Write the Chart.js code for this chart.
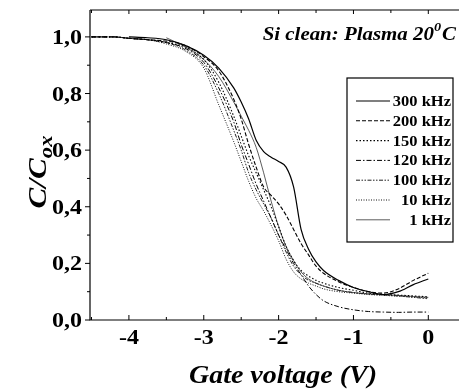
<!DOCTYPE html>
<html>
<head>
<meta charset="utf-8">
<script src="https://cdn.jsdelivr.net/npm/chart.js@4"></script>
<style>
  html, body { margin: 0; padding: 0; background: #fff; }
  #wrap { width: 460px; height: 392px; }
</style>
</head>
<body>
<div id="wrap"><canvas id="cv" width="460" height="392"></canvas></div>
<script>
// --- data ---
const voltage = [-4.5, -4.2, -4.0, -3.75, -3.5, -3.25, -3.0, -2.8, -2.6, -2.5, -2.4, -2.3, -2.2, -2.1,
  -2.0, -1.9, -1.8, -1.7, -1.6, -1.5, -1.4, -1.2, -1.0, -0.8, -0.6, -0.4, -0.2, 0];

const c300 = [null, null, 1.0, 0.997, 0.99, 0.97, 0.935, 0.89, 0.82, 0.77, 0.71, 0.635, 0.595, 0.575,
  0.56, 0.54, 0.47, 0.32, 0.25, 0.205, 0.175, 0.14, 0.115, 0.1, 0.09, 0.1, 0.125, 0.145];
const c200 = [1.0, 1.0, 0.995, 0.99, 0.985, 0.97, 0.93, 0.88, 0.78, 0.71, 0.62, 0.54, 0.47, 0.44,
  0.41, 0.37, 0.32, 0.27, 0.23, 0.19, 0.165, 0.135, 0.115, 0.1, 0.095, 0.11, 0.14, 0.165];
const c150 = [1.0, 1.0, 0.995, 0.99, 0.98, 0.965, 0.92, 0.84, 0.72, 0.65, 0.58, 0.52, 0.46, 0.40,
  0.33, 0.26, 0.21, 0.175, 0.155, 0.14, 0.13, 0.115, 0.105, 0.095, 0.09, 0.088, 0.085, 0.082];
const c120 = [1.0, 1.0, 0.995, 0.99, 0.98, 0.96, 0.91, 0.82, 0.70, 0.62, 0.55, 0.48, 0.42, 0.36,
  0.30, 0.25, 0.20, 0.16, 0.12, 0.09, 0.068, 0.047, 0.036, 0.03, 0.028, 0.027, 0.028, 0.028];
const c100 = [1.0, 1.0, 0.995, 0.99, 0.98, 0.955, 0.90, 0.80, 0.67, 0.60, 0.52, 0.46, 0.41, 0.36,
  0.30, 0.24, 0.19, 0.16, 0.14, 0.13, 0.12, 0.105, 0.097, 0.092, 0.088, 0.085, 0.08, 0.075];
const c10 = [1.0, 1.0, 0.995, 0.99, 0.975, 0.95, 0.89, 0.76, 0.63, 0.56, 0.49, 0.43, 0.385, 0.335,
  0.28, 0.215, 0.17, 0.145, 0.13, 0.12, 0.11, 0.10, 0.095, 0.09, 0.087, 0.084, 0.081, 0.078];
const c1 = [null, null, null, null, 0.997, 0.965, 0.92, 0.86, 0.77, 0.72, 0.67, 0.61, 0.52, 0.42,
  0.33, 0.26, 0.21, 0.17, 0.145, 0.13, 0.12, 0.105, 0.097, 0.092, 0.09, 0.087, 0.083, 0.08];

const seriesLabels = ['300 kHz', '200 kHz', '150 kHz', '120 kHz', '100 kHz', '10 kHz', '1 kHz'];
const xTicks = [-4, -3, -2, -1, 0];
const xMinor = [-4.5, -3.5, -2.5, -1.5, -0.5];
const yTicks = [0, 0.2, 0.4, 0.6, 0.8, 1.0];
const yMinor = [0.1, 0.3, 0.5, 0.7, 0.9];

// line styles per series
const styles = [
  { dash: [], width: 1.2, color: '#000' },
  { dash: [4, 2], width: 1.1, color: '#000' },
  { dash: [1.5, 2], width: 1.1, color: '#000' },
  { dash: [5, 2, 1.5, 2], width: 1.0, color: '#000' },
  { dash: [4, 1.5, 1.5, 1.5, 1.5, 1.5], width: 1.0, color: '#222' },
  { dash: [1, 1.5], width: 1.0, color: '#111' },
  { dash: [], width: 0.8, color: '#333' }
];

const allSeries = [c300, c200, c150, c120, c100, c10, c1];

const SERIF = "'Liberation Serif', 'DejaVu Serif', serif";
const STRETCH = 1.2; // the original lettering is wider than Liberation Serif

// draw text horizontally stretched by sx; x is the anchor for the given align
const drawStretched = (ctx, text, x, y, font, sx, align) => {
  ctx.save();
  ctx.font = font;
  const w = ctx.measureText(text).width * sx;
  let left = x;
  if (align === 'center') left = x - w / 2;
  else if (align === 'right') left = x - w;
  ctx.translate(left, y);
  ctx.scale(sx, 1);
  ctx.textAlign = 'left';
  ctx.fillText(text, 0, 0);
  ctx.restore();
  return w;
};

// --- custom drawing: frame, ticks, labels, titles, legend box, annotation ---
const decorPlugin = {
  id: 'decor',
  afterDraw(chart) {
    const { ctx, chartArea: a, scales: { x, y } } = chart;
    ctx.save();
    ctx.strokeStyle = '#000';
    ctx.lineWidth = 1.2;
    ctx.beginPath();
    ctx.moveTo(a.left, a.top); ctx.lineTo(a.left, a.bottom); ctx.lineTo(a.right, a.bottom);
    ctx.moveTo(a.left, a.top); ctx.lineTo(a.right, a.top);
    ctx.stroke();

    ctx.lineWidth = 1;
    ctx.beginPath();
    // y ticks point outward, x ticks inward
    yTicks.forEach(v => { const p = y.getPixelForValue(v); ctx.moveTo(a.left - 5, p); ctx.lineTo(a.left, p); });
    yMinor.forEach(v => { const p = y.getPixelForValue(v); ctx.moveTo(a.left - 3, p); ctx.lineTo(a.left, p); });
    xTicks.forEach(v => {
      const p = x.getPixelForValue(v);
      ctx.moveTo(p, a.bottom); ctx.lineTo(p, a.bottom - 5);
      ctx.moveTo(p, a.top); ctx.lineTo(p, a.top + 4);
    });
    xMinor.forEach(v => {
      const p = x.getPixelForValue(v);
      ctx.moveTo(p, a.bottom); ctx.lineTo(p, a.bottom - 3);
      ctx.moveTo(p, a.top); ctx.lineTo(p, a.top + 3);
    });
    ctx.stroke();

    ctx.fillStyle = '#000';
    ctx.textBaseline = 'alphabetic';
    const tickFont = 'bold 20px ' + SERIF;
    yTicks.forEach(v => {
      drawStretched(ctx, v.toFixed(1).replace('.', ','), 82, y.getPixelForValue(v) + 7, tickFont, STRETCH, 'right');
    });
    xTicks.forEach(v => {
      drawStretched(ctx, String(v), x.getPixelForValue(v), 344, tickFont, STRETCH, 'center');
    });

    // x title
    drawStretched(ctx, 'Gate voltage (V)', 283, 383, 'italic bold 25px ' + SERIF, 1.12, 'center');

    // y title C/C_ox, rotated
    ctx.save();
    ctx.translate(46, 172);
    ctx.rotate(-Math.PI / 2);
    const bigF = 'italic bold 26px ' + SERIF;
    const subF = 'italic bold 19px ' + SERIF;
    const ys = 1.2;
    ctx.font = bigF;
    const w1 = ctx.measureText('C/C').width * ys;
    ctx.font = subF;
    const w2 = ctx.measureText('ox').width * ys;
    const start = -(w1 + w2) / 2;
    drawStretched(ctx, 'C/C', start, 0, bigF, ys, 'left');
    drawStretched(ctx, 'ox', start + w1, 6, subF, ys, 'left');
    ctx.restore();

    // annotation top right
    const annF = 'italic bold 19px ' + SERIF;
    const supF = 'italic bold 13px ' + SERIF;
    ctx.font = annF;
    const wt1 = ctx.measureText('Si clean: Plasma 20').width * 1.1;
    const wC = ctx.measureText('C').width * 1.1;
    ctx.font = supF;
    const wsup = ctx.measureText('0').width * 1.1;
    const sx = 456 - (wt1 + wsup + wC + 1);
    drawStretched(ctx, 'Si clean: Plasma 20', sx, 40, annF, 1.1, 'left');
    drawStretched(ctx, '0', sx + wt1, 31, supF, 1.1, 'left');
    drawStretched(ctx, 'C', sx + wt1 + wsup + 1, 40, annF, 1.1, 'left');

    // legend box
    ctx.fillStyle = '#fff';
    ctx.fillRect(347, 78, 106, 164);
    ctx.strokeStyle = '#000';
    ctx.lineWidth = 1.2;
    ctx.setLineDash([]);
    ctx.strokeRect(347, 78, 106, 164);
    ctx.fillStyle = '#000';
    seriesLabels.forEach((lab, i) => {
      const ly = 101 + i * 19.8;
      const st = styles[i];
      ctx.strokeStyle = st.color;
      ctx.lineWidth = st.width;
      ctx.setLineDash(st.dash);
      ctx.beginPath();
      ctx.moveTo(356, ly); ctx.lineTo(390, ly);
      ctx.stroke();
      drawStretched(ctx, lab, 451, ly + 5, 'bold 15px ' + SERIF, 1.1, 'right');
    });
    ctx.restore();
  }
};

const datasets = allSeries.map((vals, i) => ({
  label: seriesLabels[i],
  data: voltage.map((v, k) => ({ x: v, y: vals[k] })),
  borderColor: styles[i].color,
  borderWidth: styles[i].width,
  borderDash: styles[i].dash,
  pointRadius: 0,
  fill: false,
  cubicInterpolationMode: 'monotone',
  spanGaps: false
}));

new Chart(document.getElementById('cv'), {
  type: 'line',
  data: { datasets },
  options: {
    responsive: false,
    animation: false,
    layout: { padding: { top: 10, right: 1, left: 0, bottom: 0 } },
    plugins: { legend: { display: false }, tooltip: { enabled: false } },
    scales: {
      x: {
        type: 'linear',
        min: -4.52,
        max: 0.41,
        grid: { display: false, drawTicks: false },
        border: { display: false },
        ticks: { display: false },
        afterFit: s => { s.height = 72; s.paddingLeft = 0; s.paddingRight = 0; }
      },
      y: {
        min: 0,
        max: 1.095,
        grid: { display: false, drawTicks: false },
        border: { display: false },
        ticks: { display: false },
        afterFit: s => { s.width = 90; s.paddingTop = 0; s.paddingBottom = 0; }
      }
    }
  },
  plugins: [decorPlugin]
});
</script>
</body>
</html>
